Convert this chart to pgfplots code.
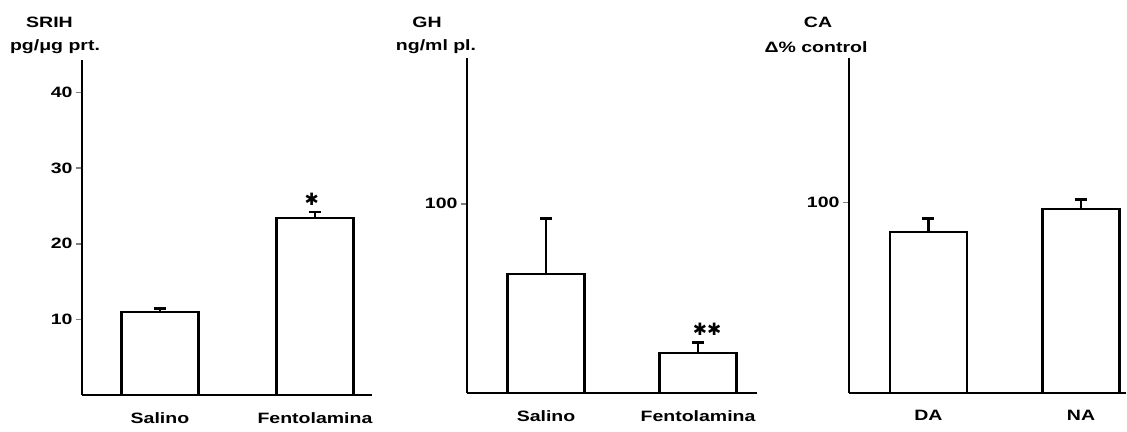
\documentclass[border=0pt]{standalone}
\usepackage{fontspec}
\setmainfont{Liberation Sans}[FakeStretch=1.3]
\newfontfamily\symfont{DejaVu Sans}
\usepackage{pgfplots}
\pgfplotsset{compat=1.18}
\pgfplotsset{
  panel/.style={
    scale only axis, height=335pt,
    axis x line=bottom, axis y line=left,
    axis line style={-, line width=2pt},
    ymin=0, xtick={0,1},
    xtick style={draw=none},
    ytick style={line width=1.6pt},
    tick align=outside, major tick length=6pt,
    ybar, bar width=77pt, bar shift=0pt,
    tick label style={font=\bfseries\fontsize{15}{15}\selectfont},
    xticklabel style={yshift=-8pt},
    /pgf/number format/assume math mode=true,
    clip=false,
  },
  barplot/.style={draw=black, fill=white, line width=2.2pt,
    error bars/.cd, y dir=plus, y explicit,
    error bar style={line width=2.2pt},
    error mark options={rotate=90, line width=2.8pt, mark size=6pt}},
}
\begin{document}
\begin{tikzpicture}[x=1pt,y=1pt]
\path[use as bounding box] (0,0) rectangle (1127,431);
\tikzset{lab/.style={font=\bfseries\fontsize{15}{15}\selectfont, inner sep=0pt}}
% Panel 1: SRIH
\begin{axis}[panel, at={(82pt,36pt)}, anchor=south west, width=290pt,
  xmin=-0.503, xmax=1.368, ymax=44.3, ytick={10,20,30,40},
  xticklabels={Salino, Fentolamina}]
\addplot[barplot] coordinates {(0,11.0) +- (0,0.4) (1,23.4) +- (0,0.8)};
\node[font=\symfont\bfseries\fontsize{17}{17}\selectfont] at (axis cs:0.98,25.9) {✱};
\end{axis}
\node[lab] at (49.5,409) {SRIH};
\node[lab] at (55,384) {pg/μg prt.};
% Panel 2: GH
\begin{axis}[panel, at={(467pt,38pt)}, anchor=south west, width=290pt,
  xmin=-0.52, xmax=1.388, ymax=177, ytick={100},
  xticklabels={Salino, Fentolamina}]
\addplot[barplot] coordinates {(0,63) +- (0,29) (1,21) +- (0,5.5)};
\node[font=\symfont\bfseries\fontsize{17}{17}\selectfont] at (axis cs:1.06,33.5) {✱✱};
\end{axis}
\node[lab] at (427,409) {GH};
\node[lab] at (436,384) {ng/ml pl.};
% Panel 3: CA
\begin{axis}[panel, at={(849pt,38pt)}, anchor=south west, width=277pt,
  xmin=-0.521, xmax=1.295, ymax=176, ytick={100},
  xticklabels={DA, NA}]
\addplot[barplot] coordinates {(0,84.7) +- (0,7) (1,96.8) +- (0,4.8)};
\end{axis}
\node[lab] at (818,409) {CA};
\node[lab] at (816,384) {Δ\% control};
\end{tikzpicture}
\end{document}
